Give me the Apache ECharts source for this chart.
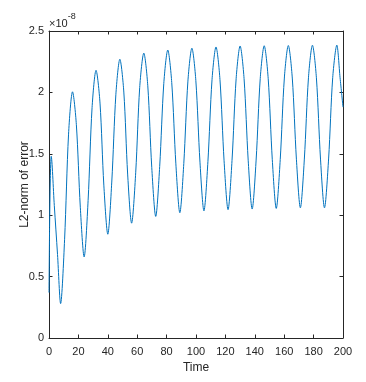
<!DOCTYPE html>
<html>
<head>
<meta charset="utf-8">
<script src="https://cdn.jsdelivr.net/npm/echarts@6/dist/echarts.min.js"></script>
<style>
  html, body { margin: 0; padding: 0; background: #fff; }
  #chart { width: 366px; height: 382px; }
</style>
</head>
<body>
<div id="chart"></div>
<script>
// values; error in units of 1e-8
const timePoints = [
  0, 0.4, 0.9, 1.5, 3.6, 5.8, 7.9,
  10.6, 13.3, 16.0, 18.6, 21.3, 23.9,
  26.6, 29.3, 32.0, 34.7, 37.3, 40.0,
  42.7, 45.5, 48.2, 50.9, 53.5, 56.2,
  59.0, 61.7, 64.5, 67.2, 69.9, 72.6,
  75.3, 78.1, 80.8, 83.5, 86.3, 89.0,
  91.7, 94.5, 97.2, 99.9, 102.7, 105.4,
  108.1, 110.9, 113.6, 116.3, 119.1, 121.8,
  124.5, 127.3, 130.0, 132.7, 135.5, 138.2,
  140.9, 143.7, 146.4, 149.1, 151.9, 154.6,
  157.3, 160.1, 162.8, 165.5, 168.3, 171.0,
  173.7, 176.5, 179.2, 181.9, 184.7, 187.4,
  190.2, 193.0, 195.8, 198.0, 200
]
const errorValues = [
  0.37, 0.9, 1.3, 1.48, 1.08, 0.68, 0.28,
  0.80, 1.66, 2.005, 1.74, 1.065, 0.66,
  1.12, 1.876, 2.18, 1.913, 1.245, 0.845,
  1.27, 1.985, 2.27, 2.003, 1.335, 0.935,
  1.35, 2.04, 2.32, 2.054, 1.39, 0.99,
  1.397, 2.074, 2.345, 2.08, 1.418, 1.02,
  1.422, 2.092, 2.36, 2.095, 1.432, 1.035,
  1.436, 2.103, 2.37, 2.105, 1.443, 1.045,
  1.445, 2.111, 2.378, 2.112, 1.448, 1.05,
  1.449, 2.114, 2.38, 2.115, 1.452, 1.055,
  1.453, 2.117, 2.382, 2.117, 1.456, 1.06,
  1.457, 2.119, 2.384, 2.119, 1.457, 1.06,
  1.458, 2.12, 2.385, 2.12, 1.88
]
const yTickLabels = ['0', '0.5', '1', '1.5', '2', '2.5']
const xTickLabels = ['0', '20', '40', '60', '80', '100', '120', '140', '160', '180', '200']

const fontFamily = "'Liberation Sans Narrow', 'Liberation Sans', Arial, sans-serif"
const axisColor = '#262626'

const boxAxis = (extra) => ({
  axisLine: { show: true, onZero: false, lineStyle: { color: axisColor, width: 1 } },
  axisTick: { show: true, inside: true, length: 3.5, lineStyle: { color: axisColor } },
  splitLine: { show: false },
  ...extra,
})

const chart = echarts.init(document.getElementById('chart'), null, { renderer: 'canvas' })
chart.setOption({
  animation: false,
  grid: { left: 49, right: 23, top: 31, bottom: 44 },
  xAxis: [
    boxAxis({
      type: 'value', min: 0, max: 200, interval: 20, position: 'bottom',
      name: 'Time', nameLocation: 'middle', nameGap: 24,
      nameTextStyle: { color: axisColor, fontSize: 12, fontFamily },
      axisLabel: {
        color: axisColor, fontSize: 11, fontFamily, margin: 8,
        formatter: (v) => xTickLabels[Math.round(v / 20)] ?? '',
      },
    }),
    boxAxis({
      type: 'value', min: 0, max: 200, interval: 20, position: 'top',
      axisLabel: { show: false },
    }),
  ],
  yAxis: [
    boxAxis({
      type: 'value', min: 0, max: 2.5, interval: 0.5, position: 'left',
      name: 'L2-norm of error', nameLocation: 'middle', nameGap: 18,
      nameMoveOverlap: false,
      nameTextStyle: { color: axisColor, fontSize: 12, fontFamily },
      axisLabel: {
        color: axisColor, fontSize: 11, fontFamily, margin: 5,
        formatter: (v) => yTickLabels[Math.round(v / 0.5)] ?? '',
      },
    }),
    boxAxis({
      type: 'value', min: 0, max: 2.5, interval: 0.5, position: 'right',
      axisLabel: { show: false },
    }),
  ],
  graphic: [
    {
      type: 'text', left: 49, top: 12,
      style: {
        text: '{a|×10}{b|-8}',
        rich: {
          a: { fontSize: 11, fontFamily, fill: axisColor, padding: [6, 0, 0, 0] },
          b: { fontSize: 9, fontFamily, fill: axisColor, verticalAlign: 'top' },
        },
      },
    },
  ],
  series: [
    {
      type: 'line',
      xAxisIndex: 0, yAxisIndex: 0,
      data: timePoints.map((t, i) => [t, errorValues[i]]),
      symbol: 'none',
      smooth: 0.3,
      lineStyle: { color: '#0072BD', width: 1 },
      clip: true,
    },
  ],
})
</script>
</body>
</html>
